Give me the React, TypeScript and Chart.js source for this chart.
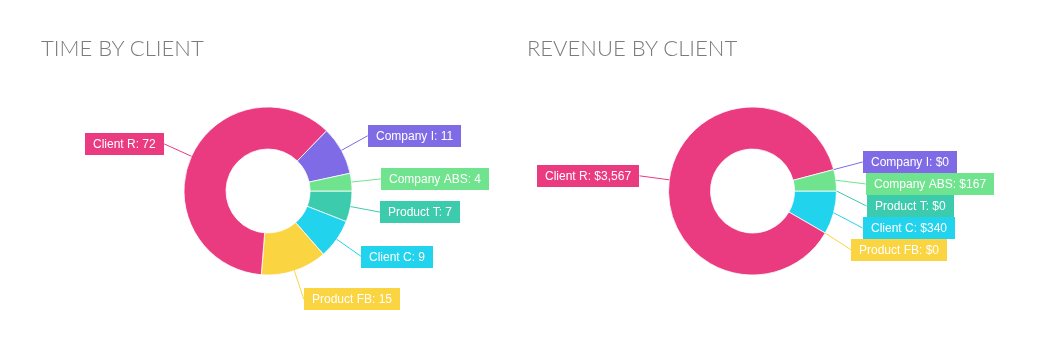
import React, { useEffect, useRef } from "react";
import { Chart, registerables } from "chart.js";

Chart.register(...registerables);

// Slice order as drawn clockwise from 3 o'clock
const categories = ["Product T", "Client C", "Product FB", "Client R", "Company I", "Company ABS"];
const timeValues = [7, 9, 15, 72, 11, 4];
const revenueValues = [0, 340, 0, 3567, 0, 167];
const sliceColors = ["#3DCBAE", "#22D3EE", "#FAD441", "#EA3A80", "#7F6BE6", "#6FE38E"];
const titles = ["TIME BY CLIENT", "REVENUE BY CLIENT"];

const fmtTime = (v: number) => String(v);
const fmtMoney = (v: number) => "$" + v.toLocaleString("en-US");

const outLabels = {
  id: "outLabels",
  afterDatasetsDraw(chart: any, _args: any, opts: any) {
    const ctx = chart.ctx as CanvasRenderingContext2D;
    const meta = chart.getDatasetMeta(0);
    const ds = chart.data.datasets[0];
    const fmt = opts.format || fmtTime;
    ctx.save();
    ctx.font = '12px "Liberation Sans", Arial, Helvetica, sans-serif';
    const gap = 30;
    const h = 22;
    const items = meta.data.map((arc: any, i: number) => {
      const p = arc.getProps(["x", "y", "startAngle", "endAngle", "outerRadius"], true);
      const mid = (p.startAngle + p.endAngle) / 2;
      const cos = Math.cos(mid);
      const sin = Math.sin(mid);
      const text = `${chart.data.labels[i]}: ${fmt(ds.data[i])}`;
      const w = ctx.measureText(text).width + 16;
      return {
        text,
        w,
        h,
        ax: p.x + cos * p.outerRadius,
        ay: p.y + sin * p.outerRadius,
        lx: p.x + cos * (p.outerRadius + gap),
        ly: p.y + sin * (p.outerRadius + gap),
        right: cos >= 0,
        color: ds.backgroundColor[i],
      };
    });
    for (const side of [true, false]) {
      const group = items.filter((it: any) => it.right === side).sort((a: any, b: any) => a.ly - b.ly);
      let prevBottom = -Infinity;
      for (const it of group) {
        let top = it.ly - it.h / 2;
        if (top < prevBottom) top = prevBottom;
        it.ly = top + it.h / 2;
        prevBottom = top + it.h;
      }
    }
    // leader lines
    for (const it of items) {
      ctx.strokeStyle = it.color;
      ctx.lineWidth = 1;
      ctx.beginPath();
      ctx.moveTo(it.ax, it.ay);
      ctx.lineTo(it.lx, it.ly);
      ctx.stroke();
    }
    // boxes
    ctx.textBaseline = "middle";
    ctx.textAlign = "left";
    for (const it of items) {
      const bx = it.right ? it.lx : it.lx - it.w;
      const by = it.ly - it.h / 2;
      ctx.fillStyle = it.color;
      ctx.fillRect(Math.round(bx), Math.round(by), Math.round(it.w), it.h);
      ctx.fillStyle = "#ffffff";
      ctx.fillText(it.text, Math.round(bx) + 8, Math.round(by) + it.h / 2 + 0.5);
    }
    ctx.restore();
  },
};

function Donut(props: { values: number[]; format: (v: number) => string; padding: any }) {
  const ref = useRef<HTMLCanvasElement | null>(null);
  useEffect(() => {
    if (!ref.current) return;
    const chart = new Chart(ref.current, {
      type: "doughnut",
      data: {
        labels: categories,
        datasets: [
          {
            data: props.values,
            backgroundColor: sliceColors,
            borderColor: "#ffffff",
            borderWidth: 0.8,
          },
        ],
      },
      options: {
        responsive: false,
        animation: false,
        rotation: 90,
        radius: 84,
        cutout: "50%",
        layout: { padding: props.padding },
        plugins: {
          legend: { display: false },
          tooltip: { enabled: false },
          outLabels: { format: props.format },
        } as any,
      },
      plugins: [outLabels as any],
    });
    return () => chart.destroy();
  }, []);
  return <canvas ref={ref} width={520} height={361} style={{ width: 520, height: 361, display: "block" }} />;
}

const titleStyle: React.CSSProperties = {
  position: "absolute",
  top: 37,
  fontFamily: "Lato, 'Open Sans', sans-serif",
  fontWeight: 300,
  fontSize: 22,
  lineHeight: "22px",
  color: "#7b7b7b",
  whiteSpace: "nowrap",
};

export default function App() {
  return (
    <div
      style={{
        position: "fixed",
        left: 0,
        top: 0,
        width: 1037,
        height: 361,
        background: "#ffffff",
        overflow: "hidden",
      }}
    >
      <div style={{ position: "absolute", left: 0, top: 0 }}>
        <Donut values={timeValues} format={fmtTime} padding={{ left: 116, right: 100, top: 71, bottom: 50 }} />
      </div>
      <div style={{ position: "absolute", left: 485, top: 0 }}>
        <Donut values={revenueValues} format={fmtMoney} padding={{ left: 115, right: 100, top: 71, bottom: 50 }} />
      </div>
      <div style={{ ...titleStyle, left: 41 }}>{titles[0]}</div>
      <div style={{ ...titleStyle, left: 527 }}>{titles[1]}</div>
    </div>
  );
}
